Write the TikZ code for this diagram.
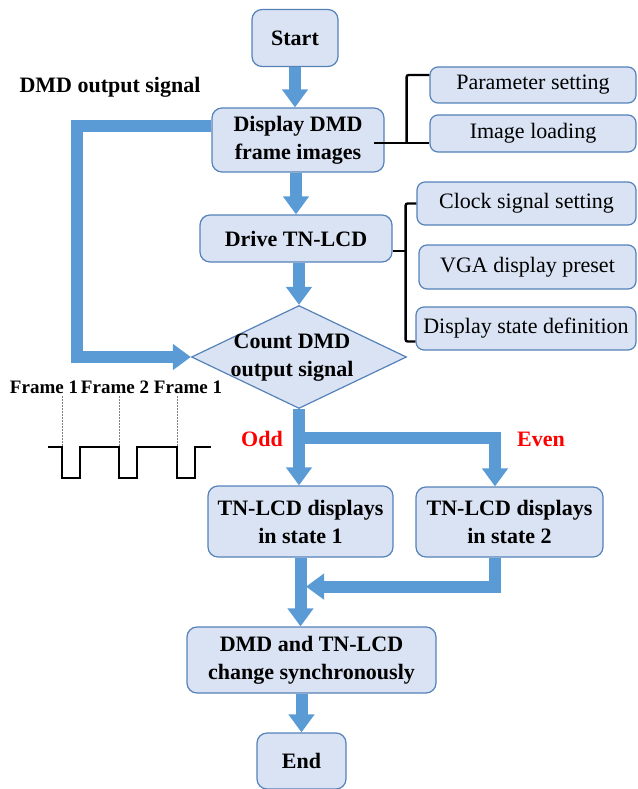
\documentclass[tikz,border=0pt]{standalone}
\usepackage{fontspec}
\setmainfont{Liberation Serif}
\usetikzlibrary{arrows.meta,shapes.geometric,calc}
\definecolor{boxfill}{RGB}{218,227,243}
\definecolor{boxline}{RGB}{84,130,185}
\definecolor{flowblue}{RGB}{91,155,213}
\begin{document}
\begin{tikzpicture}[x=1pt,y=1pt,
  bigbold/.style={font=\fontsize{22}{28}\selectfont\bfseries},
  proc/.style={bigbold, draw=boxline, line width=1.2pt, fill=boxfill,
    rounded corners=10pt, align=center, inner sep=0pt},
  sub/.style={font=\fontsize{22}{26}\selectfont, draw=boxline, line width=1.2pt,
    fill=boxfill, rounded corners=8pt, inner sep=0pt},
  flow/.style={draw=flowblue, line width=12pt, -{Triangle[width=25pt,length=18pt]}},
  brk/.style={draw=black, line width=2.4pt, rounded corners=2pt},
  framelbl/.style={font=\fontsize{19}{22}\selectfont\bfseries, anchor=base, inner sep=0pt},
  guide/.style={draw=gray, line width=0.8pt, dash pattern=on 1.5pt off 1.5pt},
  wave/.style={draw=black, line width=2pt},
]
\useasboundingbox (0,0) rectangle (637,-789);

% main flow
\node[proc, minimum width=86pt, minimum height=57pt] (start) at (295,-38) {Start};
\node[proc, minimum width=172pt, minimum height=64pt] (disp) at (298,-140) {Display DMD\\frame images};
\node[proc, minimum width=192pt, minimum height=47pt] (drive) at (296,-238.5) {Drive TN-LCD};
\node[diamond, draw=boxline, line width=1.2pt, fill=boxfill, inner sep=0pt,
      minimum width=215pt, minimum height=103pt] (count) at (299,-357) {};
\node[bigbold, align=center, inner sep=0pt] (counttxt) at (292,-358) {Count DMD\\output signal};
\node[proc, minimum width=185pt, minimum height=71pt] (st1) at (300.5,-521.5) {TN-LCD displays\\in state 1};
\node[proc, minimum width=187pt, minimum height=70pt] (st2) at (509.5,-522) {TN-LCD displays\\in state 2};
\node[proc, minimum width=249pt, minimum height=66pt] (sync) at (311.5,-660) {DMD and TN-LCD\\change synchronously};
\node[proc, minimum width=89pt, minimum height=56pt] (end) at (301.5,-761) {End};

% side tasks
\node[sub, minimum width=206pt, minimum height=36pt] (par) at (533,-85) {Parameter setting};
\node[sub, minimum width=206pt, minimum height=37pt] (img) at (533,-133.5) {Image loading};
\node[sub, minimum width=219pt, minimum height=43pt] (clk) at (526.5,-203.5) {Clock signal setting};
\node[sub, minimum width=217pt, minimum height=44pt] (vga) at (527.5,-267) {VGA display preset};
\node[sub, minimum width=220pt, minimum height=43pt] (dsd) at (526,-328.5) {Display state definition};

% labels
\node[bigbold, anchor=base, inner sep=0pt] (sig) at (110,-93) {DMD output signal};
\node[bigbold, anchor=base, inner sep=0pt, text=red] (odd) at (262,-446) {Odd};
\node[bigbold, anchor=base, inner sep=0pt, text=red] (even) at (541,-446) {Even};
\node[framelbl] (f1) at (44,-393) {Frame 1};
\node[framelbl] (f2) at (115,-393) {Frame 2};
\node[framelbl] (f3) at (188,-393) {Frame 1};

% signal waveform
\draw[guide] (62,-396) -- (62,-447);
\draw[guide] (119,-396) -- (119,-447);
\draw[guide] (177,-396) -- (177,-447);
\draw[wave] (48,-447) -- (62,-447) -- (62,-478) -- (80,-478) -- (80,-447)
  -- (119,-447) -- (119,-478) -- (137,-478) -- (137,-447)
  -- (177,-447) -- (177,-478) -- (195,-478) -- (195,-447) -- (211,-447);

% flow arrows
\draw[flow] (start.south) -- (start.south |- disp.north);
\draw[flow] (drive.north |- disp.south) -- (drive.north);
\draw[flow] (count.north |- drive.south) -- (count.north);
\draw[flow] ([yshift=14pt]disp.west) -- ++(-134,0) |- (count.west);
\draw[flow] (count.south) -- (count.south |- st1.north);
\draw[flow] (count.south) -- ++(0,-29) -| ([xshift=-14.5pt]st2.north);
\coordinate (mj) at ([xshift=5.5pt,yshift=-29pt]st1.south);
\draw[flow] ([xshift=-14.5pt]st2.south) |- (mj);
\draw[flow] (st1.south) -- (st1.south |- sync.north);
\draw[flow] (end.north |- sync.south) -- (end.north);

% brackets to side tasks
\coordinate (bA) at ([yshift=-3pt]disp.east);
\draw[brk] ([xshift=-11pt]bA) -- (bA -| img.west);
\draw[brk] ([xshift=22pt]bA) |- ([yshift=10pt]par.west);
\coordinate (bB) at ([xshift=13pt,yshift=-12.5pt]drive.east);
\draw[brk] ([yshift=-12.5pt]drive.east) -- (bB);
\draw[brk] (clk.west) -| (bB) |- ([yshift=-13pt]dsd.west);
\end{tikzpicture}
\end{document}
